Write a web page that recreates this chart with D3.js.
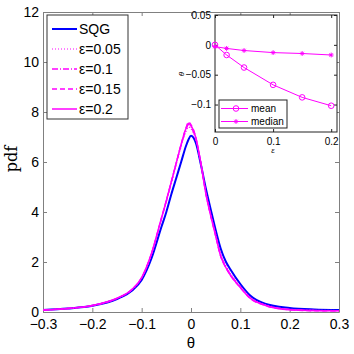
<!DOCTYPE html>
<html>
<head>
<meta charset="utf-8">
<script src="https://cdn.jsdelivr.net/npm/d3@7"></script>
<style>
body { margin: 0; background: #fff; }
svg text { font-family: "Liberation Sans", Arial, sans-serif; }
</style>
</head>
<body>
<div id="chart-area"></div>
<script>
// theta grid shared by all curves
var theta = [-0.3, -0.25, -0.2, -0.15, -0.12, -0.1, -0.08, -0.06, -0.05, -0.04, -0.03, -0.02, -0.01, -0.005, 0,
	0.01, 0.02, 0.03, 0.04, 0.05, 0.06, 0.07, 0.08, 0.1, 0.12, 0.15, 0.2, 0.25, 0.3];

var pdfSQG = [0.08, 0.14, 0.25, 0.52, 0.85, 1.28, 2.15, 3.4, 4.0, 4.7, 5.35, 6.0, 6.65, 6.9, 7.05,
	6.75, 5.9, 4.95, 4.1, 3.28, 2.55, 2.04, 1.7, 1.12, 0.66, 0.33, 0.16, 0.1, 0.08];
var pdfEps005 = [0.08, 0.14, 0.26, 0.54, 0.88, 1.35, 2.3, 3.7, 4.4, 5.15, 5.9, 6.62, 7.22, 7.4, 7.32,
	6.88, 5.95, 4.8, 3.92, 3.12, 2.33, 1.88, 1.54, 1.03, 0.6, 0.3, 0.11, 0.07, 0.06];
var pdfEps01 = [0.08, 0.14, 0.26, 0.55, 0.89, 1.37, 2.33, 3.72, 4.42, 5.18, 5.93, 6.67, 7.3, 7.5, 7.4,
	6.92, 5.95, 4.77, 3.88, 3.08, 2.28, 1.83, 1.5, 1.0, 0.57, 0.28, 0.1, 0.06, 0.05];
var pdfEps015 = [0.08, 0.14, 0.26, 0.55, 0.9, 1.38, 2.35, 3.76, 4.47, 5.22, 5.97, 6.72, 7.38, 7.6, 7.5,
	6.97, 5.95, 4.74, 3.84, 3.03, 2.23, 1.79, 1.46, 0.97, 0.54, 0.26, 0.09, 0.05, 0.05];
var pdfEps02 = [0.08, 0.14, 0.26, 0.55, 0.9, 1.38, 2.35, 3.75, 4.45, 5.2, 5.95, 6.7, 7.35, 7.55, 7.45,
	6.95, 5.95, 4.75, 3.85, 3.05, 2.25, 1.8, 1.47, 0.98, 0.55, 0.27, 0.09, 0.06, 0.05];

var seriesNames = ["SQG", "\u03b5=0.05", "\u03b5=0.1", "\u03b5=0.15", "\u03b5=0.2"];
var seriesColors = ["#0000ff", "#ff00ff", "#ff00ff", "#ff00ff", "#ff00ff"];
var seriesDash = [null, "1,2", "6,2,1,2", "5,3", null];
var seriesWidth = [2, 1.2, 1.3, 1.3, 1.5];
var allPdf = [pdfSQG, pdfEps005, pdfEps01, pdfEps015, pdfEps02];

var xTicks = [-0.3, -0.2, -0.1, 0, 0.1, 0.2, 0.3];
var yTicks = [0, 2, 4, 6, 8, 10, 12];

// inset data: mean and median of theta vs epsilon
var epsilon = [0, 0.02, 0.05, 0.1, 0.15, 0.2];
var thetaMean = [0, -0.017, -0.038, -0.067, -0.088, -0.102];
var thetaMedian = [-0.003, -0.006, -0.0095, -0.013, -0.0145, -0.017];
var insetXTicks = [0, 0.1, 0.2];
var insetYTicks = [0.05, 0, -0.05, -0.1];

var width = 354, height = 354;
var margin = {top: 12, right: 15, bottom: 42, left: 43};
var w = 339 - margin.left, h = 312 - margin.top;

var svg = d3.select("#chart-area").append("svg")
	.attr("width", width)
	.attr("height", height);

var g = svg.append("g")
	.attr("transform", "translate(" + margin.left + "," + margin.top + ")");

var x = d3.scaleLinear().domain([-0.3, 0.3]).range([0, w]);
var y = d3.scaleLinear().domain([0, 12]).range([h, 0]);

// axes: ticks inside, box on
var axisColor = "#808080";
function styleAxis(sel) {
	sel.select(".domain").attr("stroke", axisColor);
	sel.selectAll(".tick line").attr("stroke", axisColor);
	sel.selectAll(".tick text").attr("fill", "#000").attr("font-size", 14);
}
g.append("g").attr("transform", "translate(0," + h + ")")
	.call(d3.axisBottom(x).tickValues(xTicks).tickSizeInner(-4).tickSizeOuter(0).tickPadding(7)
		.tickFormat(d => d3.format(".1f")(d).replace("-", "\u2212").replace("0.0", "0")))
	.call(styleAxis);
g.append("g")
	.call(d3.axisLeft(y).tickValues(yTicks).tickSizeInner(-4).tickSizeOuter(0).tickPadding(4))
	.call(styleAxis);
g.append("g")
	.call(d3.axisTop(x).tickValues(xTicks).tickSizeInner(-4).tickSizeOuter(0).tickFormat(""))
	.call(styleAxis);
g.append("g").attr("transform", "translate(" + w + ",0)")
	.call(d3.axisRight(y).tickValues(yTicks).tickSizeInner(-4).tickSizeOuter(0).tickFormat(""))
	.call(styleAxis);

// curves
var line = d3.line()
	.x(d => x(d[0]))
	.y(d => y(d[1]))
	.curve(d3.curveMonotoneX);

allPdf.forEach(function(pdf, i) {
	var pts = theta.map((t, j) => [t, pdf[j]]);
	g.append("path")
		.attr("d", line(pts))
		.attr("fill", "none")
		.attr("stroke", seriesColors[i])
		.attr("stroke-width", seriesWidth[i])
		.attr("stroke-dasharray", seriesDash[i]);
});

// axis labels
svg.append("text")
	.attr("transform", "translate(17,159) rotate(-90)")
	.attr("text-anchor", "middle")
	.style("font-family", "'DejaVu Serif', serif")
	.attr("font-size", 16)
	.text("pdf");
svg.append("text")
	.attr("x", 191).attr("y", 348)
	.attr("text-anchor", "middle")
	.attr("font-size", 15)
	.text("\u03b8");

// main legend
var legend = svg.append("g");
legend.append("rect")
	.attr("x", 47).attr("y", 15).attr("width", 81).attr("height", 104)
	.attr("fill", "#fff").attr("stroke", "#333").attr("stroke-width", 1);
seriesNames.forEach(function(name, i) {
	var ly = 29 + i * 20;
	legend.append("line")
		.attr("x1", 52).attr("x2", 77).attr("y1", ly).attr("y2", ly)
		.attr("stroke", seriesColors[i])
		.attr("stroke-width", seriesWidth[i])
		.attr("stroke-dasharray", seriesDash[i]);
	legend.append("text")
		.attr("x", 79).attr("y", ly + 5)
		.attr("font-size", 14)
		.text(name);
});

// inset
var inset = {left: 215, top: 15, right: 337, bottom: 132};
var ix = d3.scaleLinear().domain([0, 0.21]).range([inset.left, inset.right]);
var iy = d3.scaleLinear().domain([-0.146, 0.05]).range([inset.bottom, inset.top]);

svg.append("rect")
	.attr("x", inset.left).attr("y", inset.top)
	.attr("width", inset.right - inset.left).attr("height", inset.bottom - inset.top)
	.attr("fill", "#fff").attr("stroke", "#222").attr("stroke-width", 1);

function styleInset(sel) {
	sel.select(".domain").remove();
	sel.selectAll(".tick line").attr("stroke", "#222");
	sel.selectAll(".tick text").attr("fill", "#000").attr("font-size", 10);
}
var fmtInset = d => (d === 0 ? "0" : d3.format("")(d)).replace("-", "\u2212");
svg.append("g").attr("transform", "translate(0," + inset.bottom + ")")
	.call(d3.axisBottom(ix).tickValues(insetXTicks).tickSizeInner(-3).tickSizeOuter(0).tickPadding(6).tickFormat(fmtInset))
	.call(styleInset);
svg.append("g").attr("transform", "translate(0," + inset.top + ")")
	.call(d3.axisTop(ix).tickValues(insetXTicks).tickSizeInner(-3).tickSizeOuter(0).tickFormat(""))
	.call(styleInset);
svg.append("g").attr("transform", "translate(" + inset.left + ",0)")
	.call(d3.axisLeft(iy).tickValues(insetYTicks).tickSizeInner(-3).tickSizeOuter(0).tickPadding(4).tickFormat(fmtInset))
	.call(styleInset);
svg.append("g").attr("transform", "translate(" + inset.right + ",0)")
	.call(d3.axisRight(iy).tickValues(insetYTicks).tickSizeInner(-3).tickSizeOuter(0).tickFormat(""))
	.call(styleInset);

svg.append("text")
	.attr("transform", "translate(184,74) rotate(-90)")
	.attr("text-anchor", "middle")
	.attr("font-size", 8)
	.style("font-style", "italic")
	.text("\u03b8");
svg.append("text")
	.attr("x", 273).attr("y", 153)
	.attr("text-anchor", "middle")
	.attr("font-size", 8)
	.style("font-style", "italic")
	.text("\u03b5");

var iline = d3.line().x(d => ix(d[0])).y(d => iy(d[1]));
var meanPts = epsilon.map((e, j) => [e, thetaMean[j]]);
var medianPts = epsilon.map((e, j) => [e, thetaMedian[j]]);

svg.append("path").attr("d", iline(meanPts))
	.attr("fill", "none").attr("stroke", "#ff00ff").attr("stroke-width", 1);
svg.append("path").attr("d", iline(medianPts))
	.attr("fill", "none").attr("stroke", "#ff00ff").attr("stroke-width", 1);

svg.selectAll(".mean-marker")
	.data(meanPts)
	.enter()
	.append("circle")
	.attr("cx", d => ix(d[0]))
	.attr("cy", d => iy(d[1]))
	.attr("r", 2.8)
	.attr("fill", "none")
	.attr("stroke", "#ff00ff");

// asterisk marker for the median
function drawStar(sel, cx, cy) {
	var s = 2.4;
	sel.append("path")
		.attr("d", "M" + (cx - s) + "," + cy + "H" + (cx + s) +
			"M" + cx + "," + (cy - s) + "V" + (cy + s) +
			"M" + (cx - s * 0.7) + "," + (cy - s * 0.7) + "L" + (cx + s * 0.7) + "," + (cy + s * 0.7) +
			"M" + (cx - s * 0.7) + "," + (cy + s * 0.7) + "L" + (cx + s * 0.7) + "," + (cy - s * 0.7))
		.attr("stroke", "#ff00ff").attr("stroke-width", 1).attr("fill", "none");
}
medianPts.forEach(d => drawStar(svg, ix(d[0]), iy(d[1])));

// inset legend
var ileg = svg.append("g");
ileg.append("rect")
	.attr("x", 219).attr("y", 100).attr("width", 68).attr("height", 28)
	.attr("fill", "#fff").attr("stroke", "#222").attr("stroke-width", 1);
ileg.append("line").attr("x1", 221).attr("x2", 248).attr("y1", 108.5).attr("y2", 108.5)
	.attr("stroke", "#ff00ff").attr("stroke-width", 1);
ileg.append("circle").attr("cx", 236).attr("cy", 108.5).attr("r", 2.8)
	.attr("fill", "none").attr("stroke", "#ff00ff");
ileg.append("line").attr("x1", 221).attr("x2", 248).attr("y1", 121.5).attr("y2", 121.5)
	.attr("stroke", "#ff00ff").attr("stroke-width", 1);
drawStar(ileg, 236, 121.5);
ileg.append("text").attr("x", 251).attr("y", 112).attr("font-size", 10).text("mean");
ileg.append("text").attr("x", 251).attr("y", 125).attr("font-size", 10).text("median");
</script>
</body>
</html>
